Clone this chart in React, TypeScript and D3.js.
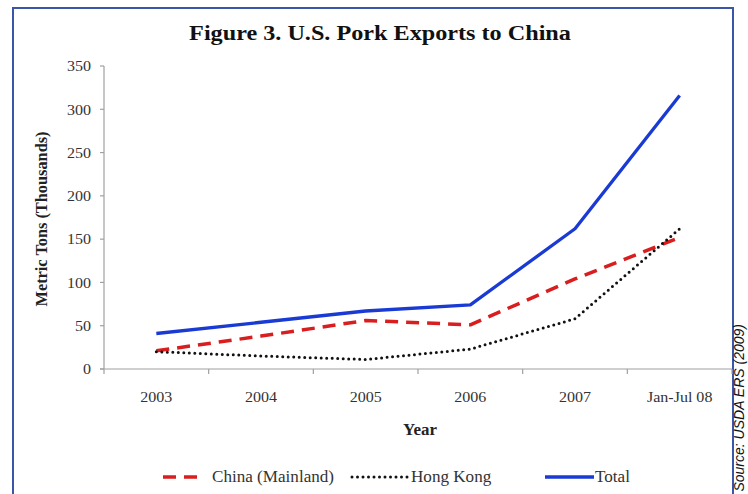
import React from "react";
import * as d3 from "d3";

const categories = ["2003", "2004", "2005", "2006", "2007", "Jan-Jul 08"];
const chinaMainland = [21, 38, 56, 51, 104, 152];
const hongKong = [20, 15, 11, 23, 58, 162];
const total = [41, 54, 67, 74, 162, 316];
const yTicks = [0, 50, 100, 150, 200, 250, 300, 350];

const W = 748;
const H = 494;
const serif = "'Liberation Serif', 'Times New Roman', serif";

function T(props: {
  x: number;
  y: number;
  sx?: number;
  rotate?: number;
  anchor?: string;
  size: number;
  weight?: string;
  fill?: string;
  dy?: string;
  style?: string;
  family?: string;
  children: React.ReactNode;
}) {
  const { x, y, sx = 1, rotate = 0, anchor = "start", size, weight = "normal", fill = "#333", dy, style, family } = props;
  return (
    <text
      transform={`translate(${x},${y}) rotate(${rotate}) scale(${sx},1)`}
      textAnchor={anchor}
      fontSize={size}
      fontWeight={weight}
      fill={fill}
      dy={dy}
      fontStyle={style}
      fontFamily={family}
    >
      {props.children}
    </text>
  );
}

export default function App() {
  const x = d3.scaleBand<string>().domain(categories).range([104, 732]).padding(0);
  const y = d3.scaleLinear().domain([0, 350]).range([369, 66]);
  const cx = (c: string) => (x(c) as number) + x.bandwidth() / 2;

  const line = (vals: number[]) =>
    d3
      .line<number>()
      .x((_, i) => cx(categories[i]))
      .y((v) => y(v))(vals) as string;

  const series = [
    { name: "China (Mainland)", vals: chinaMainland, color: "#d81e1e", width: 3.5, dash: "13,8", cap: "butt" },
    { name: "Hong Kong", vals: hongKong, color: "#111111", width: 3, dash: "0,5.5", cap: "round" },
    { name: "Total", vals: total, color: "#1a3ad4", width: 3.3, dash: "none", cap: "butt" },
  ];

  const legend = [
    { s: series[0], x1: 163, x2: 200, tx: 212 },
    { s: series[1], x1: 352, x2: 408, tx: 411 },
    { s: series[2], x1: 545, x2: 594, tx: 595 },
  ];
  const ticksX = [...categories.map((c) => x(c) as number), 732];

  return (
    <svg
      width={W}
      height={H}
      style={{ position: "absolute", left: 0, top: 0, background: "#fff" }}
      fontFamily={serif}
    >
      <rect x={0} y={0} width={W} height={H} fill="#fff" />
      {/* frame */}
      <path d={`M13,${H + 5} V8 H733 V${H + 5}`} fill="none" stroke="#3b56a8" strokeWidth={2} />
      {/* title */}
      <T x={380} y={40} anchor="middle" size={22} sx={1.1} weight="bold" fill="#111">
        Figure 3. U.S. Pork Exports to China
      </T>
      {/* y axis */}
      <line x1={104} x2={104} y1={y(350)} y2={y(0)} stroke="#a0a0a0" strokeWidth={1.2} />
      {yTicks.map((t) => (
        <g key={t}>
          <line x1={100} x2={104} y1={y(t)} y2={y(t)} stroke="#a0a0a0" strokeWidth={1.2} />
          <T x={91} y={y(t)} dy="0.35em" anchor="end" size={15} sx={1.07}>
            {t}
          </T>
        </g>
      ))}
      {/* x axis */}
      <line x1={100} x2={732} y1={y(0)} y2={y(0)} stroke="#a0a0a0" strokeWidth={1.2} />
      {ticksX.map((tx, i) => (
        <line key={i} x1={tx} x2={tx} y1={y(0)} y2={y(0) + 5} stroke="#a0a0a0" strokeWidth={1.2} />
      ))}
      {categories.map((c) => (
        <T key={c} x={cx(c)} y={402} anchor="middle" size={15} sx={1.07}>
          {c}
        </T>
      ))}
      {/* axis titles */}
      <T x={420} y={435} anchor="middle" size={16} sx={1.06} weight="bold" fill="#222">
        Year
      </T>
      <T x={47} y={219} rotate={-90} anchor="middle" size={16} sx={1.02} weight="bold" fill="#222">
        Metric Tons (Thousands)
      </T>
      {/* lines */}
      {series.map((s) => (
        <path
          key={s.name}
          d={line(s.vals)}
          fill="none"
          stroke={s.color}
          strokeWidth={s.width}
          strokeDasharray={s.dash}
          strokeLinecap={s.cap as any}
          strokeLinejoin="round"
        />
      ))}
      {/* legend */}
      {legend.map((l) => (
        <g key={l.s.name}>
          <line
            x1={l.x1}
            x2={l.x2}
            y1={477}
            y2={477}
            stroke={l.s.color}
            strokeWidth={l.s.width}
            strokeDasharray={l.s.dash}
            strokeLinecap={l.s.cap as any}
          />
          <T x={l.tx} y={482} size={16} sx={1.07}>
            {l.s.name}
          </T>
        </g>
      ))}
      {/* source */}
      <T
        x={744}
        y={324}
        rotate={-90}
        anchor="end"
        size={14}
        style="italic"
        family="'Liberation Sans', Arial, sans-serif"
        fill="#111"
      >
        Source: USDA ERS (2009)
      </T>
    </svg>
  );
}
